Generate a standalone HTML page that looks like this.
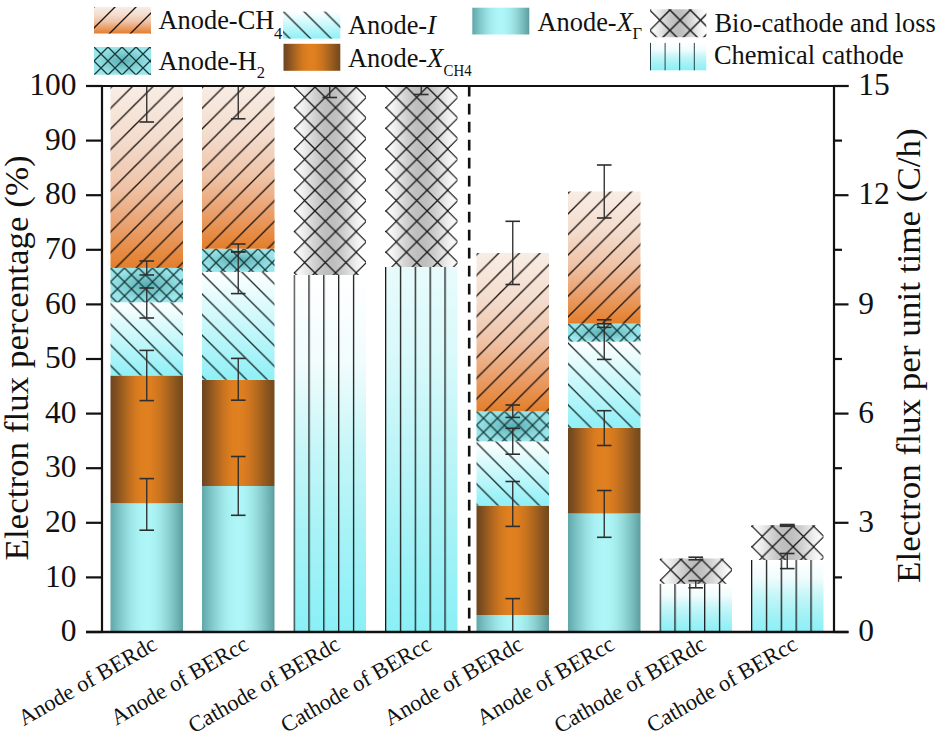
<!DOCTYPE html>
<html><head><meta charset="utf-8"><style>
html,body{margin:0;padding:0;background:#fff;width:940px;height:739px;overflow:hidden}
svg{display:block}
text{font-family:"Liberation Serif",serif;fill:#111}
.tk{font-size:31.5px}
.lg{font-size:26.4px}
.sub{font-size:16.5px}
.xl{font-size:22.6px}
.yl{font-size:33px}
</style></head><body>
<svg width="940" height="739" viewBox="0 0 940 739">

<defs>
<linearGradient id="gCH4" x1="0" y1="0" x2="0" y2="1">
 <stop offset="0" stop-color="#f8ede4"/><stop offset="0.3" stop-color="#f3dccd"/><stop offset="0.55" stop-color="#efc4a8"/><stop offset="0.78" stop-color="#ea9f6b"/><stop offset="1" stop-color="#e37e2a"/>
</linearGradient>
<linearGradient id="gI" x1="0" y1="0" x2="0" y2="1">
 <stop offset="0" stop-color="#ffffff"/><stop offset="1" stop-color="#8ef0f6"/>
</linearGradient>
<radialGradient id="gH2" cx="0.5" cy="0.5" r="0.5">
 <stop offset="0" stop-color="#5aaeb2"/><stop offset="1" stop-color="#9ae6ea"/>
</radialGradient>
<linearGradient id="gXC" x1="0" y1="0" x2="1" y2="0"><stop offset="0.0000" stop-color="#6e4520"/><stop offset="0.0625" stop-color="#7c4c20"/><stop offset="0.1250" stop-color="#915720"/><stop offset="0.1875" stop-color="#a66220"/><stop offset="0.2500" stop-color="#ba6c1f"/><stop offset="0.3125" stop-color="#cc751f"/><stop offset="0.3750" stop-color="#d87c1f"/><stop offset="0.4375" stop-color="#e07f1f"/><stop offset="0.5000" stop-color="#e1801f"/><stop offset="0.5625" stop-color="#dd7e1f"/><stop offset="0.6250" stop-color="#d4791f"/><stop offset="0.6875" stop-color="#c7731f"/><stop offset="0.7500" stop-color="#b76b1e"/><stop offset="0.8125" stop-color="#a5621e"/><stop offset="0.8750" stop-color="#92591e"/><stop offset="0.9375" stop-color="#80501d"/><stop offset="1.0000" stop-color="#744a1d"/></linearGradient>
<linearGradient id="gXG" x1="0" y1="0" x2="1" y2="0"><stop offset="0.0000" stop-color="#60a6aa"/><stop offset="0.0625" stop-color="#6fb6b9"/><stop offset="0.1250" stop-color="#7ec5c7"/><stop offset="0.1875" stop-color="#8bd2d5"/><stop offset="0.2500" stop-color="#97dfe0"/><stop offset="0.3125" stop-color="#a1e9ea"/><stop offset="0.3750" stop-color="#a8f0f1"/><stop offset="0.4375" stop-color="#adf4f6"/><stop offset="0.5000" stop-color="#aef6f7"/><stop offset="0.5625" stop-color="#acf4f5"/><stop offset="0.6250" stop-color="#a8eff0"/><stop offset="0.6875" stop-color="#a0e7e8"/><stop offset="0.7500" stop-color="#96dcdd"/><stop offset="0.8125" stop-color="#8acfd0"/><stop offset="0.8750" stop-color="#7bc0c1"/><stop offset="0.9375" stop-color="#6cafb0"/><stop offset="1.0000" stop-color="#5c9e9f"/></linearGradient>
<linearGradient id="gCHEM" x1="0" y1="0" x2="0" y2="1">
 <stop offset="0" stop-color="#ffffff"/><stop offset="0.25" stop-color="#f0fcfd"/><stop offset="0.5" stop-color="#c4f6f8"/><stop offset="0.75" stop-color="#a4f2f6"/><stop offset="1" stop-color="#8af0f6"/>
</linearGradient>
<linearGradient id="gCHEM2" x1="0" y1="0" x2="0" y2="1">
 <stop offset="0" stop-color="#e8fbfc"/><stop offset="0.25" stop-color="#d8f9fa"/><stop offset="0.5" stop-color="#bdf5f8"/><stop offset="0.75" stop-color="#a2f2f6"/><stop offset="1" stop-color="#8af0f6"/>
</linearGradient>
<linearGradient id="gBIO" x1="0" y1="0" x2="1" y2="0"><stop offset="0.0000" stop-color="#fdfdfd"/><stop offset="0.0625" stop-color="#f9f9f9"/><stop offset="0.1250" stop-color="#f0f0f0"/><stop offset="0.1875" stop-color="#e5e5e5"/><stop offset="0.2500" stop-color="#d9d9d9"/><stop offset="0.3125" stop-color="#cecece"/><stop offset="0.3750" stop-color="#c5c5c5"/><stop offset="0.4375" stop-color="#bfbfbf"/><stop offset="0.5000" stop-color="#bdbdbd"/><stop offset="0.5625" stop-color="#bfbfbf"/><stop offset="0.6250" stop-color="#c5c5c5"/><stop offset="0.6875" stop-color="#cecece"/><stop offset="0.7500" stop-color="#d9d9d9"/><stop offset="0.8125" stop-color="#e5e5e5"/><stop offset="0.8750" stop-color="#f0f0f0"/><stop offset="0.9375" stop-color="#f9f9f9"/><stop offset="1.0000" stop-color="#fdfdfd"/></linearGradient>
<pattern id="pFwd" patternUnits="userSpaceOnUse" width="20.6" height="20.6" y="1.8">
 <path d="M0,20.6 L20.6,0 M-2,2 L2,-2 M18.6,22.6 L22.6,18.6" stroke="#1e1410" stroke-width="1.35"/>
</pattern>
<pattern id="pBack" patternUnits="userSpaceOnUse" width="20.6" height="20.6" y="1.4">
 <path d="M0,0 L20.6,20.6 M-2,18.6 L2,22.6 M18.6,-2 L22.6,2" stroke="#1a2a2c" stroke-width="1.35"/>
</pattern>
<pattern id="pCross" patternUnits="userSpaceOnUse" width="14" height="14">
 <path d="M0,0 L14,14 M0,14 L14,0" stroke="#173a3c" stroke-width="1.3"/>
</pattern>
<pattern id="pBio" patternUnits="userSpaceOnUse" width="20.65" height="20.65" x="0.8" y="1.0">
 <path d="M0,0 L20.65,20.65 M0,20.65 L20.65,0" stroke="#1a1a1a" stroke-width="1.35"/>
</pattern>
<pattern id="pVert" patternUnits="userSpaceOnUse" width="14.85" height="20">
 <line x1="0.6" y1="0" x2="0.6" y2="20" stroke="#1a1a1a" stroke-width="1.4"/>
</pattern>
<pattern id="pFwdL" patternUnits="userSpaceOnUse" width="21" height="21" x="94" y="7">
 <path d="M0,21 L21,0 M-2,2 L2,-2 M19,23 L23,19" stroke="#1e1410" stroke-width="1.35"/>
</pattern>
<pattern id="pBackL" patternUnits="userSpaceOnUse" width="20.6" height="20.6" x="283.5" y="11.6">
 <path d="M0,0 L20.6,20.6 M-2,18.6 L2,22.6 M18.6,-2 L22.6,2" stroke="#1a2a2c" stroke-width="1.35"/>
</pattern>
<pattern id="pCrossL" patternUnits="userSpaceOnUse" width="14" height="14" x="94" y="47">
 <path d="M0,0 L14,14 M0,14 L14,0" stroke="#173a3c" stroke-width="1.3"/>
</pattern>
<pattern id="pBioL" patternUnits="userSpaceOnUse" width="20.4" height="20.4" x="649.5" y="10">
 <path d="M0,0 L20.4,20.4 M0,20.4 L20.4,0" stroke="#1a1a1a" stroke-width="1.5"/>
</pattern>
<pattern id="pVertL" patternUnits="userSpaceOnUse" width="14.6" height="20" x="650" y="43">
 <line x1="0.2" y1="0" x2="0.2" y2="20" stroke="#1f3a3c" stroke-width="1.5"/>
</pattern>
</defs>

<defs><clipPath id="cz2"><polygon points="-0.30,-19.65 10.03,-9.32 -0.30,1.00 10.03,11.32 -0.30,21.65 10.03,31.97 -0.30,42.30 10.03,52.62 -0.30,62.95 10.03,73.27 -0.30,83.60 10.03,93.92 -0.30,104.25 10.03,114.58 -0.30,124.90 10.03,135.22 -0.30,145.55 10.03,155.87 -0.30,166.20 10.03,176.52 -0.30,186.85 10.03,197.17 -0.30,207.50 10.03,217.82 -0.30,228.15 10.03,238.47 74.17,238.47 63.85,228.15 74.17,217.82 63.85,207.50 74.17,197.17 63.85,186.85 74.17,176.52 63.85,166.20 74.17,155.87 63.85,145.55 74.17,135.22 63.85,124.90 74.17,114.58 63.85,104.25 74.17,93.92 63.85,83.60 74.17,73.27 63.85,62.95 74.17,52.62 63.85,42.30 74.17,31.97 63.85,21.65 74.17,11.32 63.85,1.00 74.17,-9.32 63.85,-19.65"/></clipPath><clipPath id="cz3"><polygon points="-0.30,-19.65 10.03,-9.32 -0.30,1.00 10.03,11.32 -0.30,21.65 10.03,31.97 -0.30,42.30 10.03,52.62 -0.30,62.95 10.03,73.27 -0.30,83.60 10.03,93.92 -0.30,104.25 10.03,114.58 -0.30,124.90 10.03,135.22 -0.30,145.55 10.03,155.87 -0.30,166.20 10.03,176.52 -0.30,186.85 10.03,197.17 -0.30,207.50 10.03,217.82 74.17,217.82 63.85,207.50 74.17,197.17 63.85,186.85 74.17,176.52 63.85,166.20 74.17,155.87 63.85,145.55 74.17,135.22 63.85,124.90 74.17,114.58 63.85,104.25 74.17,93.92 63.85,83.60 74.17,73.27 63.85,62.95 74.17,52.62 63.85,42.30 74.17,31.97 63.85,21.65 74.17,11.32 63.85,1.00 74.17,-9.32 63.85,-19.65"/></clipPath><clipPath id="cz6"><polygon points="-0.30,-19.65 10.03,-9.32 -0.30,1.00 10.03,11.32 -0.30,21.65 10.03,31.97 -0.30,42.30 10.03,52.62 -0.30,62.95 10.03,73.27 74.17,73.27 63.85,62.95 74.17,52.62 63.85,42.30 74.17,31.97 63.85,21.65 74.17,11.32 63.85,1.00 74.17,-9.32 63.85,-19.65"/></clipPath><clipPath id="cz7"><polygon points="-0.30,-19.65 10.03,-9.32 -0.30,1.00 10.03,11.32 -0.30,21.65 10.03,31.97 -0.30,42.30 10.03,52.62 -0.30,62.95 10.03,73.27 74.17,73.27 63.85,62.95 74.17,52.62 63.85,42.30 74.17,31.97 63.85,21.65 74.17,11.32 63.85,1.00 74.17,-9.32 63.85,-19.65"/></clipPath></defs>

<rect x="94" y="7" width="57" height="26.5" fill="url(#gCH4)"/>
<rect x="94" y="7" width="57" height="26.5" fill="url(#pFwdL)"/>
<text x="158.5" y="29.2" class="lg">Anode-CH</text>
<text x="274" y="38.5" class="sub">4</text>
<rect x="94" y="47" width="57" height="27.7" fill="url(#gH2)"/>
<rect x="94" y="47" width="57" height="27.7" fill="url(#pCrossL)"/>
<text x="158.5" y="69.6" class="lg">Anode-H</text>
<text x="256.8" y="78.4" class="sub">2</text>
<rect x="283" y="11.6" width="57.3" height="27" fill="url(#gI)"/>
<rect x="283" y="11.6" width="57.3" height="27" fill="url(#pBackL)"/>
<text x="348" y="33.6" class="lg">Anode-<tspan font-style="italic">I</tspan></text>
<rect x="283.5" y="43.8" width="56.8" height="27" fill="url(#gXC)"/>
<text x="348" y="66.6" class="lg">Anode-<tspan font-style="italic">X</tspan></text>
<text transform="translate(443.6,76.4) scale(0.9,1)" class="sub">CH4</text>
<rect x="472.3" y="7.7" width="57" height="26.8" fill="url(#gXG)"/>
<text x="537.5" y="30.6" class="lg">Anode-<tspan font-style="italic">X</tspan></text>
<text x="632.5" y="39.1" class="sub">Γ</text>
<clipPath id="czL"><polygon points="648.4,10 658.6,20.2 648.4,30.4 658.6,40.6 720,40.6 720,0 658.6,-0.2"/></clipPath>
<g clip-path="url(#czL)">
<rect x="650" y="9.3" width="56.3" height="27.9" fill="url(#gBIO)"/>
<rect x="650" y="9.3" width="56.3" height="27.9" fill="url(#pBioL)"/>
</g>
<text x="714.5" y="31.9" class="lg">Bio-cathode and loss</text>
<rect x="650" y="42.9" width="56.3" height="27.4" fill="url(#gCHEM)"/>
<rect x="650" y="42.9" width="56.3" height="27.4" fill="url(#pVertL)"/>
<text x="714" y="63.8" class="lg">Chemical cathode</text>

<g transform="translate(110.5,503.3)"><rect x="0" y="0" width="72.5" height="128.70" fill="url(#gXG)"/></g><g transform="translate(110.5,375.5)"><rect x="0" y="0" width="72.5" height="127.80" fill="url(#gXC)"/></g><g transform="translate(110.5,302.3)"><rect x="0" y="0" width="72.5" height="73.20" fill="url(#gI)"/><rect x="0" y="0" width="72.5" height="73.20" fill="url(#pBack)"/></g><g transform="translate(110.5,267.9)"><rect x="0" y="0" width="72.5" height="34.40" fill="url(#gH2)"/><rect x="0" y="0" width="72.5" height="34.40" fill="url(#pCross)"/></g><g transform="translate(110.5,86)"><rect x="0" y="0" width="72.5" height="181.90" fill="url(#gCH4)"/><rect x="0" y="0" width="72.5" height="181.90" fill="url(#pFwd)"/></g>
<g transform="translate(202.0,486)"><rect x="0" y="0" width="72.5" height="146.00" fill="url(#gXG)"/></g><g transform="translate(202.0,379.8)"><rect x="0" y="0" width="72.5" height="106.20" fill="url(#gXC)"/></g><g transform="translate(202.0,271.9)"><rect x="0" y="0" width="72.5" height="107.90" fill="url(#gI)"/><rect x="0" y="0" width="72.5" height="107.90" fill="url(#pBack)"/></g><g transform="translate(202.0,248.7)"><rect x="0" y="0" width="72.5" height="23.20" fill="url(#gH2)"/><rect x="0" y="0" width="72.5" height="23.20" fill="url(#pCross)"/></g><g transform="translate(202.0,86)"><rect x="0" y="0" width="72.5" height="162.70" fill="url(#gCH4)"/><rect x="0" y="0" width="72.5" height="162.70" fill="url(#pFwd)"/></g>
<g transform="translate(293.5,275)"><rect x="0" y="0" width="72.5" height="357.00" fill="url(#gCHEM)"/><rect x="0" y="0" width="72.5" height="357.00" fill="url(#pVert)"/></g><g transform="translate(293.5,86)"><g clip-path="url(#cz2)"><rect x="0" y="0" width="72.5" height="189.00" fill="url(#gBIO)"/><rect x="0" y="0" width="72.5" height="189.00" fill="url(#pBio)"/></g></g>
<g transform="translate(385.0,267)"><rect x="0" y="0" width="72.5" height="365.00" fill="url(#gCHEM2)"/><rect x="0" y="0" width="72.5" height="365.00" fill="url(#pVert)"/></g><g transform="translate(385.0,86)"><g clip-path="url(#cz3)"><rect x="0" y="0" width="72.5" height="181.00" fill="url(#gBIO)"/><rect x="0" y="0" width="72.5" height="181.00" fill="url(#pBio)"/></g></g>
<g transform="translate(476.5,615)"><rect x="0" y="0" width="72.5" height="17.00" fill="url(#gXG)"/></g><g transform="translate(476.5,505.6)"><rect x="0" y="0" width="72.5" height="109.40" fill="url(#gXC)"/></g><g transform="translate(476.5,441.3)"><rect x="0" y="0" width="72.5" height="64.30" fill="url(#gI)"/><rect x="0" y="0" width="72.5" height="64.30" fill="url(#pBack)"/></g><g transform="translate(476.5,411.3)"><rect x="0" y="0" width="72.5" height="30.00" fill="url(#gH2)"/><rect x="0" y="0" width="72.5" height="30.00" fill="url(#pCross)"/></g><g transform="translate(476.5,253)"><rect x="0" y="0" width="72.5" height="158.30" fill="url(#gCH4)"/><rect x="0" y="0" width="72.5" height="158.30" fill="url(#pFwd)"/></g>
<g transform="translate(568.0,513.5)"><rect x="0" y="0" width="72.5" height="118.50" fill="url(#gXG)"/></g><g transform="translate(568.0,427.9)"><rect x="0" y="0" width="72.5" height="85.60" fill="url(#gXC)"/></g><g transform="translate(568.0,341.6)"><rect x="0" y="0" width="72.5" height="86.30" fill="url(#gI)"/><rect x="0" y="0" width="72.5" height="86.30" fill="url(#pBack)"/></g><g transform="translate(568.0,323.6)"><rect x="0" y="0" width="72.5" height="18.00" fill="url(#gH2)"/><rect x="0" y="0" width="72.5" height="18.00" fill="url(#pCross)"/></g><g transform="translate(568.0,191.5)"><rect x="0" y="0" width="72.5" height="132.10" fill="url(#gCH4)"/><rect x="0" y="0" width="72.5" height="132.10" fill="url(#pFwd)"/></g>
<g transform="translate(659.5,583.8)"><rect x="0" y="0" width="72.5" height="48.20" fill="url(#gCHEM)"/><rect x="0" y="0" width="72.5" height="48.20" fill="url(#pVert)"/></g><g transform="translate(659.5,558.5)"><g clip-path="url(#cz6)"><rect x="0" y="0" width="72.5" height="25.30" fill="url(#gBIO)"/><rect x="0" y="0" width="72.5" height="25.30" fill="url(#pBio)"/></g></g>
<g transform="translate(751.0,560)"><rect x="0" y="0" width="72.5" height="72.00" fill="url(#gCHEM)"/><rect x="0" y="0" width="72.5" height="72.00" fill="url(#pVert)"/></g><g transform="translate(751.0,525.2)"><g clip-path="url(#cz7)"><rect x="0" y="0" width="72.5" height="34.80" fill="url(#gBIO)"/><rect x="0" y="0" width="72.5" height="34.80" fill="url(#pBio)"/></g></g>
<g stroke="#2e2e2e" stroke-width="1.35" fill="none">
<line x1="146.75" y1="478.6" x2="146.75" y2="530.2"/>
<line x1="139.45" y1="478.6" x2="154.05" y2="478.6" stroke-width="1.6"/>
<line x1="139.45" y1="530.2" x2="154.05" y2="530.2" stroke-width="1.6"/>
<line x1="146.75" y1="350.4" x2="146.75" y2="400.6"/>
<line x1="139.45" y1="350.4" x2="154.05" y2="350.4" stroke-width="1.6"/>
<line x1="139.45" y1="400.6" x2="154.05" y2="400.6" stroke-width="1.6"/>
<line x1="146.75" y1="288" x2="146.75" y2="318"/>
<line x1="139.45" y1="288" x2="154.05" y2="288" stroke-width="1.6"/>
<line x1="139.45" y1="318" x2="154.05" y2="318" stroke-width="1.6"/>
<line x1="146.75" y1="261" x2="146.75" y2="275"/>
<line x1="139.45" y1="261" x2="154.05" y2="261" stroke-width="1.6"/>
<line x1="139.45" y1="275" x2="154.05" y2="275" stroke-width="1.6"/>
<line x1="146.75" y1="86" x2="146.75" y2="122"/>
<line x1="139.45" y1="122" x2="154.05" y2="122" stroke-width="1.6"/>
<line x1="238.25" y1="456.5" x2="238.25" y2="515.3"/>
<line x1="230.95" y1="456.5" x2="245.55" y2="456.5" stroke-width="1.6"/>
<line x1="230.95" y1="515.3" x2="245.55" y2="515.3" stroke-width="1.6"/>
<line x1="238.25" y1="358.4" x2="238.25" y2="400.2"/>
<line x1="230.95" y1="358.4" x2="245.55" y2="358.4" stroke-width="1.6"/>
<line x1="230.95" y1="400.2" x2="245.55" y2="400.2" stroke-width="1.6"/>
<line x1="238.25" y1="251.7" x2="238.25" y2="293.6"/>
<line x1="230.95" y1="251.7" x2="245.55" y2="251.7" stroke-width="1.6"/>
<line x1="230.95" y1="293.6" x2="245.55" y2="293.6" stroke-width="1.6"/>
<line x1="238.25" y1="244" x2="238.25" y2="252"/>
<line x1="230.95" y1="244" x2="245.55" y2="244" stroke-width="1.6"/>
<line x1="230.95" y1="252" x2="245.55" y2="252" stroke-width="1.6"/>
<line x1="238.25" y1="86" x2="238.25" y2="118.8"/>
<line x1="230.95" y1="118.8" x2="245.55" y2="118.8" stroke-width="1.6"/>
<line x1="329.75" y1="86" x2="329.75" y2="97.5"/>
<line x1="322.45" y1="97.5" x2="337.05" y2="97.5" stroke-width="1.6"/>
<line x1="421.25" y1="86" x2="421.25" y2="94.5"/>
<line x1="413.95" y1="94.5" x2="428.55" y2="94.5" stroke-width="1.6"/>
<line x1="512.75" y1="598.6" x2="512.75" y2="632"/>
<line x1="505.45" y1="598.6" x2="520.05" y2="598.6" stroke-width="1.6"/>
<line x1="512.75" y1="481.5" x2="512.75" y2="526.4"/>
<line x1="505.45" y1="481.5" x2="520.05" y2="481.5" stroke-width="1.6"/>
<line x1="505.45" y1="526.4" x2="520.05" y2="526.4" stroke-width="1.6"/>
<line x1="512.75" y1="428.3" x2="512.75" y2="454.2"/>
<line x1="505.45" y1="428.3" x2="520.05" y2="428.3" stroke-width="1.6"/>
<line x1="505.45" y1="454.2" x2="520.05" y2="454.2" stroke-width="1.6"/>
<line x1="512.75" y1="405" x2="512.75" y2="417.4"/>
<line x1="505.45" y1="405" x2="520.05" y2="405" stroke-width="1.6"/>
<line x1="505.45" y1="417.4" x2="520.05" y2="417.4" stroke-width="1.6"/>
<line x1="512.75" y1="221.3" x2="512.75" y2="284.5"/>
<line x1="505.45" y1="221.3" x2="520.05" y2="221.3" stroke-width="1.6"/>
<line x1="505.45" y1="284.5" x2="520.05" y2="284.5" stroke-width="1.6"/>
<line x1="604.25" y1="490.5" x2="604.25" y2="537.3"/>
<line x1="596.95" y1="490.5" x2="611.55" y2="490.5" stroke-width="1.6"/>
<line x1="596.95" y1="537.3" x2="611.55" y2="537.3" stroke-width="1.6"/>
<line x1="604.25" y1="410.7" x2="604.25" y2="445.5"/>
<line x1="596.95" y1="410.7" x2="611.55" y2="410.7" stroke-width="1.6"/>
<line x1="596.95" y1="445.5" x2="611.55" y2="445.5" stroke-width="1.6"/>
<line x1="604.25" y1="323.8" x2="604.25" y2="359.4"/>
<line x1="596.95" y1="323.8" x2="611.55" y2="323.8" stroke-width="1.6"/>
<line x1="596.95" y1="359.4" x2="611.55" y2="359.4" stroke-width="1.6"/>
<line x1="604.25" y1="319.8" x2="604.25" y2="327.4"/>
<line x1="596.95" y1="319.8" x2="611.55" y2="319.8" stroke-width="1.6"/>
<line x1="596.95" y1="327.4" x2="611.55" y2="327.4" stroke-width="1.6"/>
<line x1="604.25" y1="165" x2="604.25" y2="218"/>
<line x1="596.95" y1="165" x2="611.55" y2="165" stroke-width="1.6"/>
<line x1="596.95" y1="218" x2="611.55" y2="218" stroke-width="1.6"/>
<line x1="695.75" y1="557.2" x2="695.75" y2="559.8"/>
<line x1="688.45" y1="557.2" x2="703.05" y2="557.2" stroke-width="1.6"/>
<line x1="688.45" y1="559.8" x2="703.05" y2="559.8" stroke-width="1.6"/>
<line x1="695.75" y1="580.7" x2="695.75" y2="587.8"/>
<line x1="688.45" y1="580.7" x2="703.05" y2="580.7" stroke-width="1.6"/>
<line x1="688.45" y1="587.8" x2="703.05" y2="587.8" stroke-width="1.6"/>
<line x1="787.25" y1="553.5" x2="787.25" y2="568.6"/>
<line x1="779.95" y1="553.5" x2="794.55" y2="553.5" stroke-width="1.6"/>
<line x1="779.95" y1="568.6" x2="794.55" y2="568.6" stroke-width="1.6"/>
<line x1="779.75" y1="525.4" x2="794.75" y2="525.4" stroke-width="3.4" stroke="#333"/>
</g>
<line x1="469.2" y1="85.8" x2="469.2" y2="632" stroke="#111" stroke-width="2.6" stroke-dasharray="10.8 7.2"/>
<g stroke="#111" stroke-width="2.2" fill="none">
<line x1="86" y1="632.0" x2="102" y2="632.0"/>
<line x1="86" y1="577.4" x2="102" y2="577.4"/>
<line x1="86" y1="522.8" x2="102" y2="522.8"/>
<line x1="86" y1="468.2" x2="102" y2="468.2"/>
<line x1="86" y1="413.6" x2="102" y2="413.6"/>
<line x1="86" y1="359.0" x2="102" y2="359.0"/>
<line x1="86" y1="304.4" x2="102" y2="304.4"/>
<line x1="86" y1="249.8" x2="102" y2="249.8"/>
<line x1="86" y1="195.2" x2="102" y2="195.2"/>
<line x1="86" y1="140.60000000000002" x2="102" y2="140.60000000000002"/>
<line x1="86" y1="86.0" x2="102" y2="86.0"/>
<line x1="834" y1="632.0" x2="848.5" y2="632.0"/>
<line x1="834" y1="577.4" x2="842" y2="577.4"/>
<line x1="834" y1="522.8" x2="848.5" y2="522.8"/>
<line x1="834" y1="468.2" x2="842" y2="468.2"/>
<line x1="834" y1="413.6" x2="848.5" y2="413.6"/>
<line x1="834" y1="359.0" x2="842" y2="359.0"/>
<line x1="834" y1="304.4" x2="848.5" y2="304.4"/>
<line x1="834" y1="249.8" x2="842" y2="249.8"/>
<line x1="834" y1="195.2" x2="848.5" y2="195.2"/>
<line x1="834" y1="140.60000000000002" x2="842" y2="140.60000000000002"/>
<line x1="834" y1="86.0" x2="848.5" y2="86.0"/>
<line x1="102" y1="86" x2="102" y2="633"/>
<line x1="834" y1="86" x2="834" y2="633"/>
<line x1="86" y1="86" x2="848.5" y2="86"/>
<line x1="86" y1="632" x2="848.5" y2="632" stroke-width="2.6"/>
</g>
<text x="76.5" y="641.2" text-anchor="end" class="tk">0</text>
<text x="76.5" y="586.6" text-anchor="end" class="tk">10</text>
<text x="76.5" y="532.0" text-anchor="end" class="tk">20</text>
<text x="76.5" y="477.4" text-anchor="end" class="tk">30</text>
<text x="76.5" y="422.8" text-anchor="end" class="tk">40</text>
<text x="76.5" y="368.2" text-anchor="end" class="tk">50</text>
<text x="76.5" y="313.59999999999997" text-anchor="end" class="tk">60</text>
<text x="76.5" y="259.0" text-anchor="end" class="tk">70</text>
<text x="76.5" y="204.39999999999998" text-anchor="end" class="tk">80</text>
<text x="76.5" y="149.8" text-anchor="end" class="tk">90</text>
<text x="76.5" y="95.2" text-anchor="end" class="tk">100</text>
<text x="858.3" y="641.2" class="tk">0</text>
<text x="858.3" y="532.0" class="tk">3</text>
<text x="858.3" y="422.8" class="tk">6</text>
<text x="858.3" y="313.59999999999997" class="tk">9</text>
<text x="858.3" y="204.39999999999998" class="tk">12</text>
<text x="858.3" y="95.2" class="tk">15</text>
<g>
<text transform="translate(27.5,560.5) rotate(-90)" class="yl" textLength="405.2" lengthAdjust="spacingAndGlyphs">Electron flux percentage (%)</text>
<text transform="translate(919.5,583) rotate(-90)" class="yl" textLength="454.8" lengthAdjust="spacingAndGlyphs">Electron flux per unit time (C/h)</text>
</g>
<text transform="translate(158.55,648.5) rotate(-30)" text-anchor="end" class="xl">Anode of BERdc</text>
<text transform="translate(250.05,648.5) rotate(-30)" text-anchor="end" class="xl">Anode of BERcc</text>
<text transform="translate(341.55,648.5) rotate(-30)" text-anchor="end" class="xl">Cathode of BERdc</text>
<text transform="translate(433.05,648.5) rotate(-30)" text-anchor="end" class="xl">Cathode of BERcc</text>
<text transform="translate(524.55,648.5) rotate(-30)" text-anchor="end" class="xl">Anode of BERdc</text>
<text transform="translate(616.05,648.5) rotate(-30)" text-anchor="end" class="xl">Anode of BERcc</text>
<text transform="translate(707.55,648.5) rotate(-30)" text-anchor="end" class="xl">Cathode of BERdc</text>
<text transform="translate(799.05,648.5) rotate(-30)" text-anchor="end" class="xl">Cathode of BERcc</text>
</svg>
</body></html>
